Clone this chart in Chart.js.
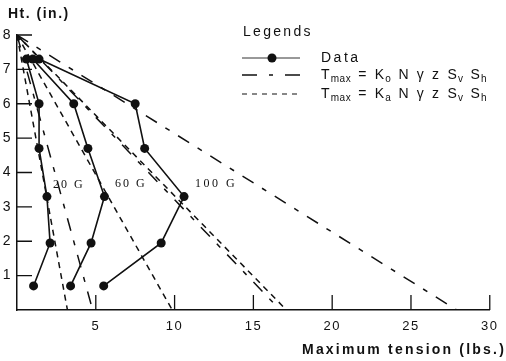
<!DOCTYPE html>
<html>
<head>
<meta charset="utf-8">
<script src="https://cdn.jsdelivr.net/npm/chart.js@4"></script>
<style>
  body { margin: 0; background: #fff; }
  #wrap { position: relative; width: 506px; height: 361px; font-family: "Liberation Sans", Arial, sans-serif; color: #111; }
  .abs { position: absolute; white-space: nowrap; }
  .ttl { font-weight: bold; font-size: 14px; letter-spacing: 1.5px; }
  .glab { font-family: "Liberation Serif", "Times New Roman", serif; font-size: 12px; letter-spacing: 2px; }
  .leg { font-size: 14px; letter-spacing: 1.2px; word-spacing: 2px; }
  .leg sub { font-size: 10px; vertical-align: -3px; letter-spacing: 0.5px; }
</style>
</head>
<body>
<div id="wrap">
  <canvas id="chart"></canvas>

  <div class="abs ttl" style="left:8px; top:5px;">Ht. (in.)</div>
  <div class="abs ttl" style="right:0px; top:341px; letter-spacing:2.2px;">Maximum tension (lbs.)</div>

  <div class="abs glab" style="left:53px; top:177px;">20 G</div>
  <div class="abs glab" style="left:115px; top:176px;">60 G</div>
  <div class="abs glab" style="left:195px; top:176px; letter-spacing:2.5px;">100 G</div>

  <div class="abs leg" style="left:243px; top:23px; letter-spacing:2.3px;">Legends</div>
  <svg class="abs" style="left:242px; top:48px;" width="60" height="56">
    <line x1="0" y1="10" x2="58" y2="10" stroke="#333" stroke-width="1"/>
    <circle cx="30" cy="10" r="4.5" fill="#111"/>
    <line x1="0" y1="27" x2="58" y2="27" stroke="#111" stroke-width="1.5" stroke-dasharray="15 12 4 12"/>
    <line x1="0" y1="46" x2="58" y2="46" stroke="#111" stroke-width="1.2" stroke-dasharray="5 5"/>
  </svg>
  <div class="abs leg" style="left:321px; top:49px; letter-spacing:2.5px;">Data</div>
  <div class="abs leg" style="left:321px; top:66px;">T<sub>max</sub> = K<sub>o</sub> N γ z S<sub>v</sub> S<sub>h</sub></div>
  <div class="abs leg" style="left:321px; top:85px;">T<sub>max</sub> = K<sub>a</sub> N γ z S<sub>v</sub> S<sub>h</sub></div>
</div>

<script>
// measured heights (in.) and max tension (lbs.) per acceleration level
const heights = [7.3, 6.0, 4.7, 3.3, 1.95, 0.7];
const tension20 = [0.6, 1.4, 1.4, 1.9, 2.1, 1.05];
const tension60 = [1.0, 3.6, 4.5, 5.55, 4.7, 3.4];
const tension100 = [1.4, 7.5, 8.1, 10.6, 9.15, 5.5];

// theoretical lines: from zero tension at the top down to these values at the base
const topHeight = 8;
const koIntercepts = [4.8, 16.7, 27.9];
const kaIntercepts = [3.2, 9.85, 17.1];

const xTicks = [5, 10, 15, 20, 25, 30];
const yTicks = [1, 2, 3, 4, 5, 6, 7, 8];

const INK = '#111';

const pts = (xs) => xs.map((v, i) => ({ x: v, y: heights[i] }));
const theory = (end) => [{ x: 0, y: topHeight }, { x: end, y: 0 }];

const datasets = [];
koIntercepts.forEach(end => datasets.push({
  data: theory(end), borderColor: INK, borderWidth: 1.5,
  borderDash: [13, 10, 5, 10], pointRadius: 0, showLine: true
}));
kaIntercepts.forEach(end => datasets.push({
  data: theory(end), borderColor: INK, borderWidth: 1.5,
  borderDash: [6, 5], pointRadius: 0, showLine: true
}));
[tension20, tension60, tension100].forEach(s => datasets.push({
  data: pts(s), borderColor: INK, borderWidth: 1.6, showLine: true,
  pointRadius: 4.5, pointBackgroundColor: INK, pointBorderWidth: 0
}));

// short tick marks pointing inward from the axes
const innerTicks = {
  id: 'innerTicks',
  beforeDraw(chart) { chart.ctx.letterSpacing = '1.5px'; },
  afterDatasetsDraw(chart) {
    const { ctx, chartArea: a, scales: { x, y } } = chart;
    ctx.save();
    ctx.strokeStyle = INK;
    ctx.lineWidth = 1.3;
    ctx.beginPath();
    xTicks.forEach(v => {
      const px = x.getPixelForValue(v);
      ctx.moveTo(px, a.bottom); ctx.lineTo(px, a.bottom - 15);
    });
    yTicks.forEach(v => {
      const py = y.getPixelForValue(v);
      ctx.moveTo(a.left, py); ctx.lineTo(a.left + 15, py);
    });
    ctx.stroke();
    ctx.restore();
  }
};

const tickFont = { family: '"Liberation Sans", Arial, sans-serif', size: 13 };

new Chart(document.getElementById('chart'), {
  type: 'scatter',
  data: { datasets },
  plugins: [innerTicks],
  options: {
    responsive: true,
    maintainAspectRatio: false,
    animation: false,
    layout: { padding: { top: 35, right: 13, left: 0, bottom: 0 } },
    plugins: { legend: { display: false }, tooltip: { enabled: false } },
    scales: {
      x: {
        type: 'linear', min: 0, max: 30,
        grid: { display: false, drawTicks: false },
        border: { display: true, color: INK, width: 1.5 },
        afterBuildTicks: s => { s.ticks = xTicks.map(v => ({ value: v })); },
        afterFit: s => { s.height = 51; },
        ticks: { color: INK, font: tickFont, padding: 9, maxRotation: 0 }
      },
      y: {
        type: 'linear', min: 0, max: 8,
        grid: { display: false, drawTicks: false },
        border: { display: true, color: INK, width: 1.5 },
        afterBuildTicks: s => { s.ticks = yTicks.map(v => ({ value: v })); },
        afterFit: s => { s.width = 17; },
        ticks: { color: INK, font: { ...tickFont, size: 14 }, padding: 5 }
      }
    }
  }
});
</script>
</body>
</html>
